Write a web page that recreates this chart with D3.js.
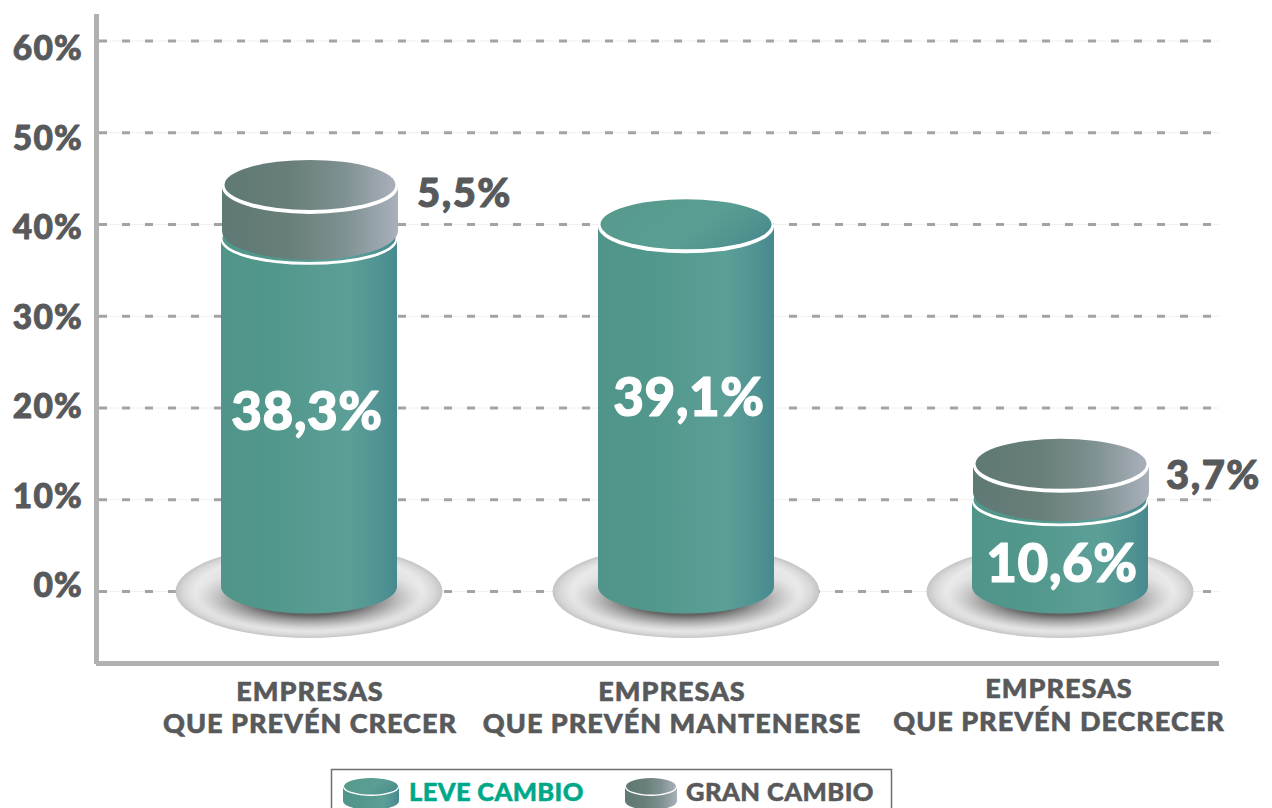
<!DOCTYPE html>
<html><head><meta charset="utf-8">
<script src="https://cdn.jsdelivr.net/npm/d3@7"></script>
<style>html,body{margin:0;padding:0;background:#fff;overflow:hidden}svg{display:block}text{font-family:Lato,"Open Sans",sans-serif;font-weight:900}</style>
</head><body><svg id="c" width="1272" height="808"></svg>
<script>
const categories = ["EMPRESAS|QUE PREVÉN CRECER","EMPRESAS|QUE PREVÉN MANTENERSE","EMPRESAS|QUE PREVÉN DECRECER"];
const seriesNames = ["LEVE CAMBIO","GRAN CAMBIO"];
const leveLabels = ["38,3%","39,1%","10,6%"];
const granLabels = ["5,5%",null,"3,7%"];
// top of each drawn cylinder
const leveTops = [38.6,39.8,10.1];
const granTops = [44.1,null,13.7];
const tickValues = [0,10,20,30,40,50,60];

const svg = d3.select("#c");
const defs = svg.append("defs");
const y = d3.scaleLinear().domain([0,60]).range([591.5,41]);
const yLabel = d3.scaleLinear().domain([0,60]).range([586,49]);
const x = d3.scaleOrdinal().domain(categories).range([309,686,1060]);
const INK="#58595b", AXIS="#b1b1b1";
const RX=88, RY=27;

function grad(id,stops,attrs){
  const g=defs.append("linearGradient").attr("id",id).attr("x1",attrs?attrs[0]:0).attr("y1",attrs?attrs[1]:0).attr("x2",attrs?attrs[2]:1).attr("y2",attrs?attrs[3]:0);
  stops.forEach(s=>g.append("stop").attr("offset",s[0]).attr("stop-color",s[1]));
}
grad("teal",[[0,"#51958a"],[.3,"#52978b"],[.72,"#5b9f97"],[.9,"#519392"],[1,"#468a8f"]]);
grad("tealTop",[[0,"#57998c"],[.55,"#5a9e93"],[.8,"#52958f"],[1,"#468a8e"]],[0,.3,1,.7]);
grad("grey",[[0,"#5f7974"],[.38,"#687e79"],[.7,"#7f9192"],[1,"#a9b0ba"]]);
const plateG=defs.append("radialGradient").attr("id","plate");
[[0,"#dcdcdc"],[.72,"#e2e2e2"],[.85,"#e9e9e9"],[.94,"#d8d8d8"],[1,"#c4c4c4"]].forEach(s=>plateG.append("stop").attr("offset",s[0]).attr("stop-color",s[1]));
const shG=defs.append("radialGradient").attr("id","shadow");
[[0,"#444",1],[.5,"#666",1],[.7,"#8c8c8c",.65],[1,"#c8c8c8",0]].forEach(s=>shG.append("stop").attr("offset",s[0]).attr("stop-color",s[1]).attr("stop-opacity",s[2]));

// grid
const grid=svg.append("g");
grid.selectAll("line.f").data(tickValues).join("line").attr("class","f")
  .attr("x1",99).attr("x2",1219).attr("y1",d=>y(d)).attr("y2",d=>y(d)).attr("stroke","#f0f0f0").attr("stroke-width",1);
grid.selectAll("line.d").data(tickValues).join("line").attr("class","d")
  .attr("x1",99).attr("x2",1219).attr("y1",d=>y(d)).attr("y2",d=>y(d))
  .attr("stroke","#a3a3a3").attr("stroke-width",3).attr("stroke-dasharray","8 15");

// axis frame
svg.append("rect").attr("x",94).attr("y",14).attr("width",5).attr("height",650).attr("fill",AXIS);
svg.append("rect").attr("x",96).attr("y",661).attr("width",1123).attr("height",5).attr("fill",AXIS);

function heavy(sel,w){return sel.attr("stroke",function(){return d3.select(this).attr("fill")}).attr("stroke-width",w).attr("stroke-linejoin","round");}

// tick labels
const axisG=svg.append("g").attr("transform","translate(83,0)")
  .call(d3.axisLeft(yLabel).tickValues(tickValues).tickSize(0).tickPadding(0).tickFormat(d=>d+"%"));
axisG.select(".domain").remove();
axisG.selectAll("text").attr("fill",INK).style("font-size","33.5px").style("font-family","Lato").style("font-weight",900).style("letter-spacing","1.2px");
heavy(axisG.selectAll("text"),.9);

function body(g,cx,top,bottom,bottomRy,side){
  g.append("path").attr("d",`M${cx-RX},${top}L${cx-RX},${bottom}A${RX},${bottomRy} 0 0 0 ${cx+RX},${bottom}L${cx+RX},${top}Z`).attr("fill",side);
}
function rim(g,cx,cy,ry,capCy,capRx,capRy,cap){
  g.append("ellipse").attr("cx",cx).attr("cy",cy).attr("rx",RX).attr("ry",ry).attr("fill","#fff");
  g.append("ellipse").attr("cx",cx).attr("cy",capCy).attr("rx",capRx).attr("ry",capRy).attr("fill",cap);
}
const bars=svg.append("g").selectAll("g").data(categories).join("g");
bars.each(function(c,i){
  const g=d3.select(this), cx=x(c), base=y(0)-5, T=y(leveTops[i]);
  g.append("ellipse").attr("cx",cx).attr("cy",y(0)).attr("rx",133.5).attr("ry",46.5).attr("fill","url(#plate)");
  g.append("ellipse").attr("cx",cx).attr("cy",y(0)+7).attr("rx",116).attr("ry",34).attr("fill","url(#shadow)");
  if(granTops[i]!=null){
    body(g,cx,T+3,base,RY,"url(#teal)");
    rim(g,cx,T+3,24.5,T+1,86.5,23.6,"url(#teal)");
    const G=y(granTops[i]);
    body(g,cx+1,G,T-6.5,29,"url(#grey)");
    rim(g,cx+1,G,RY,G-2,RX-2.5,RY-2,"url(#grey)");
  } else {
    body(g,cx,T,base,RY,"url(#teal)");
    rim(g,cx,T,RY,T-2,RX-2.5,RY-2,"url(#tealTop)");
  }
});

// value labels
const inX=[307,689,1062], inY=[411,397,563];
heavy(svg.append("g").selectAll("text").data(leveLabels).join("text")
  .attr("x",(d,i)=>inX[i]).attr("y",(d,i)=>inY[i]).attr("dy","0.36em").attr("text-anchor","middle")
  .attr("fill","#fff").style("font-size","53px").style("letter-spacing","0.6px").text(d=>d),1.2);
const outX=[417,null,1166], outY=[193,null,475];
heavy(svg.append("g").selectAll("text").data(granLabels.filter(d=>d)).join("text")
  .attr("x",(d,i)=>outX[i*2]).attr("y",(d,i)=>outY[i*2]).attr("dy","0.36em")
  .attr("fill",INK).style("font-size","40px").style("letter-spacing","1.5px").text(d=>d),1);

// categories
const catX=[310,672,1059], catY=[701,701,698], catGap=[32,32,33];
categories.forEach((c,i)=>{
  c.split("|").forEach((t,k)=>{
    heavy(svg.append("text").attr("x",catX[i]).attr("y",catY[i]+k*catGap[i]).attr("text-anchor","middle")
      .attr("fill",INK).style("font-size","27px").style("letter-spacing","1px").text(t),.6);
  });
});

// legend
svg.append("rect").attr("x",331.5).attr("y",769.5).attr("width",560).attr("height",60).attr("fill","#fff").attr("stroke","#6d6e70").attr("stroke-width",1.5);
function legendIcon(cx,w,side,cap){
  const rx=w/2, top=787, ry=9, bottom=801;
  const g=svg.append("g");
  g.append("path").attr("d",`M${cx-rx},${top}L${cx-rx},${bottom}A${rx},${ry} 0 0 0 ${cx+rx},${bottom}L${cx+rx},${top}Z`).attr("fill",side);
  g.append("ellipse").attr("cx",cx).attr("cy",top).attr("rx",rx).attr("ry",ry).attr("fill","#fff");
  g.append("ellipse").attr("cx",cx).attr("cy",top-.7).attr("rx",rx-1).attr("ry",ry-.8).attr("fill",cap);
}
legendIcon(371,56,"url(#teal)","url(#tealTop)");
legendIcon(651,52,"url(#grey)","url(#grey)");
heavy(svg.append("text").attr("x",409).attr("y",801).attr("fill","#00a88a").style("font-size","25.5px").style("letter-spacing","0.35px").text(seriesNames[0]),.5);
heavy(svg.append("text").attr("x",686).attr("y",801).attr("fill",INK).style("font-size","25.5px").style("letter-spacing","0.45px").text(seriesNames[1]),.5);
</script></body></html>
